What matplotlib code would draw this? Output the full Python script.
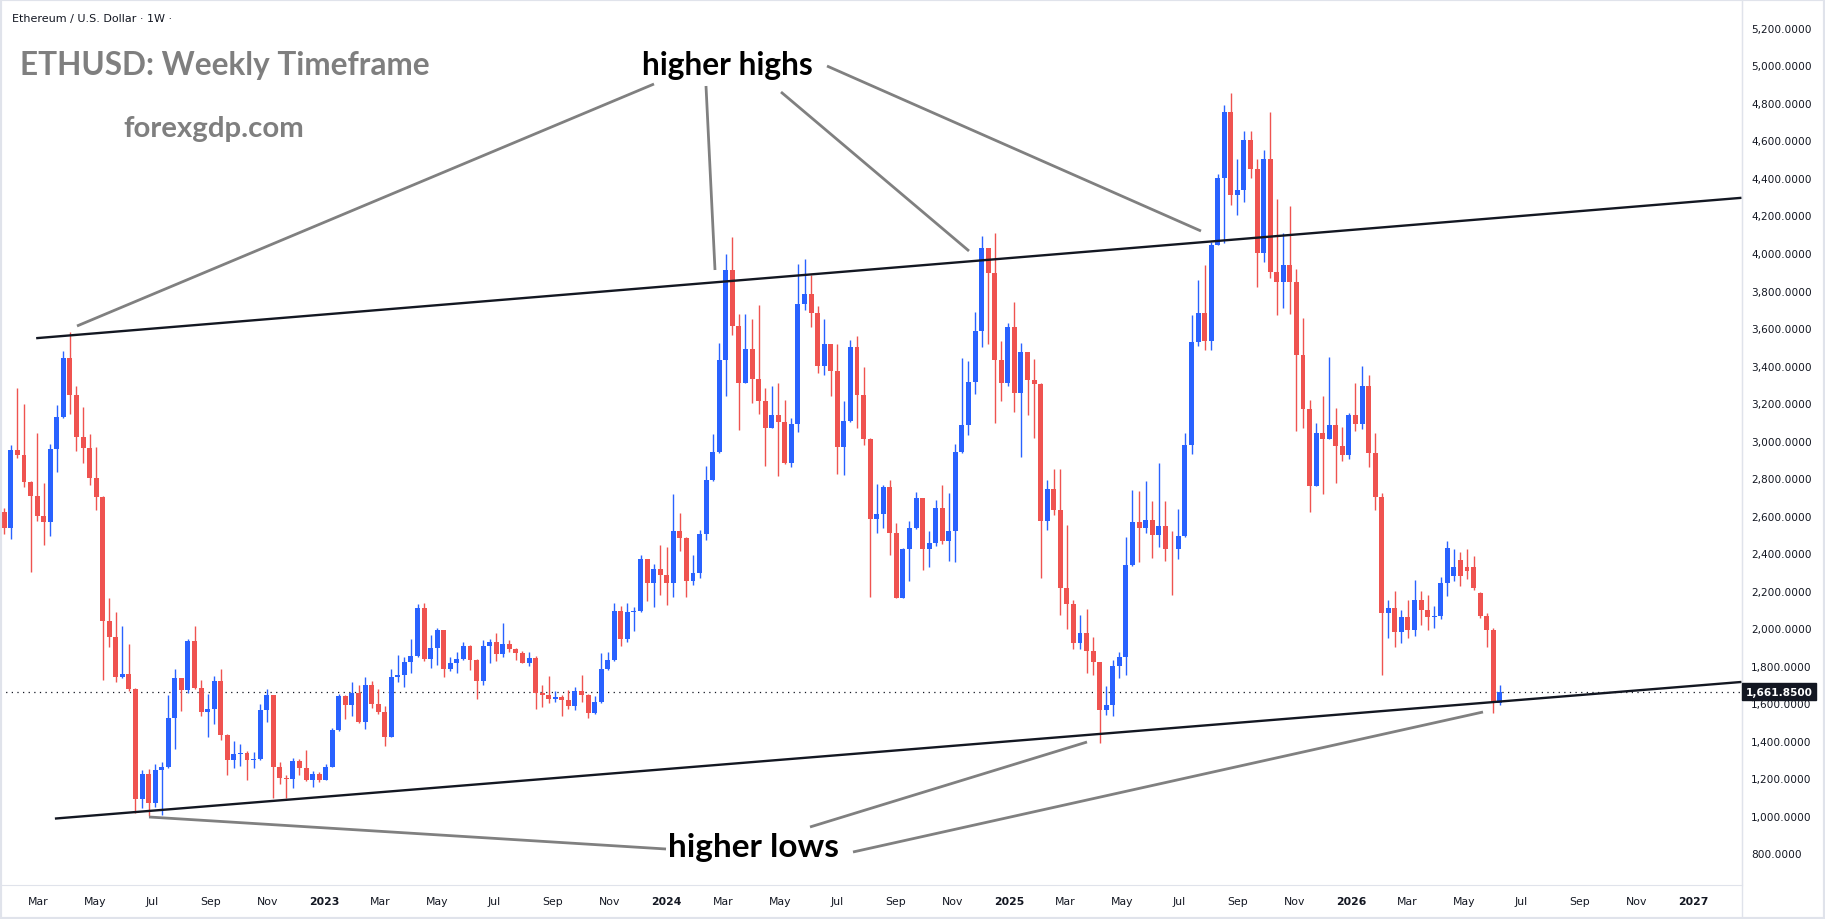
import matplotlib
matplotlib.use("Agg")
import matplotlib.pyplot as plt
import matplotlib.dates as mdates
import matplotlib.transforms as mtransforms
import pandas as pd
from matplotlib.patches import Rectangle
from matplotlib.lines import Line2D

# ---------------- data (weekly ETHUSD candles) ----------------
START = "2022-01-24"
opens = [2620, 2535, 2950, 2921, 2780, 2705, 2598, 2566, 2955, 3126,
         3440, 3243, 3020, 2960, 2800, 2699, 2038, 1953, 1741, 1757,
         1678, 1090, 1224, 1069, 1245, 1260, 1521, 1735, 1670, 1932,
         1681, 1553, 1570, 1719, 1431, 1298, 1330, 1334, 1300, 1305,
         1564, 1644, 1261, 1204, 1197, 1295, 1257, 1191, 1225, 1193,
         1263, 1460, 1641, 1593, 1655, 1502, 1698, 1598, 1556, 1421,
         1740, 1751, 1820, 1852, 2108, 1836, 1895, 1991, 1783, 1815,
         1836, 1906, 1831, 1719, 1906, 1927, 1863, 1916, 1890, 1868,
         1815, 1842, 1655, 1644, 1623, 1634, 1618, 1586, 1666, 1644,
         1549, 1607, 1783, 1831, 2092, 1943, 2087, 2092, 2369, 2241,
         2316, 2284, 2243, 2518, 2483, 2254, 2295, 2502, 2790, 2940,
         3430, 3909, 3611, 3307, 3488, 3329, 3211, 3067, 3137, 3099,
         2881, 3089, 3728, 3781, 3680, 3398, 3515, 3371, 2966, 3105,
         3499, 3243, 3009, 2583, 2609, 2753, 2508, 2163, 2423, 2534,
         2694, 2423, 2455, 2641, 2465, 2518, 2940, 3083, 3312, 3584,
         4027, 3893, 3430, 3307, 3606, 3254, 3472, 3323, 3302, 2572,
         2742, 2630, 2215, 2130, 1922, 1975, 1879, 1820, 1565, 1591,
         1798, 1847, 2336, 2567, 2535, 2577, 2498, 2545, 2425, 2420,
         2492, 2977, 3525, 3681, 3533, 4045, 4400, 4750, 4311, 4335,
         4600, 4450, 4002, 4500, 3901, 3848, 3937, 3848, 3458, 3166,
         2758, 3040, 3011, 3083, 2969, 2925, 3135, 3090, 3290, 2936,
         2702, 2080, 2110, 1980, 2060, 1990, 2150, 2100, 2060, 2065,
         2240, 2276, 2363, 2327, 2327, 2188, 2065, 1990, 1600]
highs = [2640, 2977, 3281, 3195, 2786, 3042, 2775, 2982, 3189, 3478,
         3580, 3292, 3178, 3036, 2966, 2705, 2161, 2087, 2013, 1916,
         1681, 1245, 1251, 1276, 1287, 1643, 1782, 1735, 1943, 2013,
         1725, 1651, 1746, 1782, 1436, 1399, 1383, 1348, 1342, 1596,
         1676, 1644, 1289, 1216, 1310, 1305, 1353, 1241, 1236, 1278,
         1467, 1650, 1644, 1716, 1698, 1742, 1721, 1676, 1588, 1783,
         1858, 1847, 1943, 2129, 2135, 1964, 2002, 1991, 1847, 1874,
         1927, 1911, 1836, 1938, 1943, 1975, 2028, 1938, 1895, 1879,
         1874, 1852, 1698, 1746, 1666, 1644, 1671, 1687, 1751, 1650,
         1639, 1868, 1874, 2135, 2119, 2135, 2113, 2390, 2369, 2343,
         2444, 2433, 2716, 2614, 2486, 2391, 2524, 2865, 3035, 3520,
         3995, 4085, 3675, 3675, 3648, 3723, 3281, 3291, 3307, 3217,
         3121, 3941, 3968, 3883, 3718, 3648, 3515, 3515, 3211, 3536,
         3558, 3392, 3014, 2769, 2764, 2790, 2561, 2428, 2572, 2726,
         2694, 2518, 2684, 2764, 2721, 2982, 3440, 3424, 3686, 4090,
         4027, 4106, 3531, 3627, 3739, 3520, 3472, 3435, 3307, 2790,
         2849, 2849, 2550, 2151, 2071, 2103, 1954, 1820, 1693, 1831,
         1875, 2488, 2738, 2732, 2786, 2679, 2880, 2679, 2521, 2636,
         3040, 3669, 3858, 3937, 4060, 4420, 4790, 4850, 4500, 4650,
         4650, 4500, 4550, 4750, 4290, 4104, 4250, 3915, 3655, 3217,
         3093, 3237, 3446, 3174, 3073, 3146, 3307, 3397, 3349, 3041,
         2720, 2150, 2200, 2100, 2150, 2260, 2200, 2180, 2120, 2274,
         2464, 2422, 2407, 2422, 2383, 2192, 2080, 2000, 1700]
lows = [2500, 2476, 2908, 2753, 2299, 2571, 2443, 2492, 2833, 3121,
        3142, 2944, 2879, 2764, 2631, 1725, 1899, 1714, 1735, 1665,
        1017, 1042, 1000, 1047, 1004, 1254, 1357, 1559, 1654, 1676,
        1532, 1420, 1490, 1404, 1218, 1257, 1268, 1193, 1257, 1300,
        1502, 1094, 1170, 1094, 1151, 1220, 1188, 1156, 1183, 1193,
        1263, 1454, 1517, 1534, 1497, 1463, 1575, 1545, 1374, 1421,
        1716, 1689, 1762, 1847, 1827, 1788, 1806, 1742, 1772, 1762,
        1831, 1778, 1623, 1698, 1815, 1826, 1847, 1874, 1831, 1815,
        1799, 1570, 1580, 1602, 1607, 1533, 1570, 1565, 1607, 1522,
        1543, 1602, 1778, 1826, 1906, 1927, 1986, 2087, 2145, 2113,
        2177, 2124, 2169, 2414, 2169, 2233, 2270, 2472, 2785, 2934,
        3238, 3563, 3057, 3307, 3201, 3142, 2865, 3067, 2812, 2876,
        2860, 3046, 3696, 3606, 3360, 3350, 3238, 2822, 2817, 3099,
        3067, 2977, 2167, 2508, 2534, 2391, 2160, 2160, 2254, 2529,
        2312, 2328, 2440, 2449, 2357, 2355, 2934, 3030, 3249, 3499,
        3515, 3094, 3211, 3291, 3153, 2913, 3137, 3014, 2268, 2524,
        2604, 2071, 1996, 1890, 1890, 1760, 1752, 1388, 1540, 1532,
        1733, 1752, 2332, 2352, 2506, 2375, 2435, 2360, 2176, 2371,
        2488, 2931, 3503, 3483, 3483, 4040, 4055, 4256, 4205, 4272,
        4400, 3821, 3950, 3866, 3669, 3708, 3675, 3054, 3069, 2620,
        2758, 2718, 3011, 2775, 2889, 2902, 3054, 3064, 2862, 2632,
        1750, 1950, 1900, 1920, 1950, 1960, 2020, 1990, 2000, 2049,
        2173, 2253, 2223, 2264, 2205, 2055, 1900, 1550, 1590]
closes = [2535, 2950, 2921, 2780, 2705, 2598, 2566, 2955, 3126, 3440,
          3243, 3020, 2960, 2800, 2699, 2038, 1953, 1741, 1757, 1678,
          1090, 1224, 1069, 1245, 1260, 1521, 1735, 1670, 1932, 1681,
          1553, 1570, 1719, 1431, 1298, 1330, 1334, 1300, 1305, 1564,
          1644, 1261, 1204, 1197, 1295, 1257, 1191, 1225, 1193, 1263,
          1460, 1641, 1593, 1655, 1502, 1698, 1598, 1556, 1421, 1740,
          1751, 1820, 1852, 2108, 1836, 1895, 1991, 1783, 1815, 1836,
          1906, 1831, 1719, 1906, 1927, 1863, 1916, 1890, 1868, 1815,
          1842, 1655, 1644, 1623, 1634, 1618, 1586, 1666, 1644, 1549,
          1607, 1783, 1831, 2092, 1943, 2087, 2092, 2369, 2241, 2316,
          2284, 2243, 2518, 2483, 2254, 2295, 2502, 2790, 2940, 3430,
          3909, 3611, 3307, 3488, 3329, 3211, 3067, 3137, 3099, 2881,
          3089, 3728, 3781, 3680, 3398, 3515, 3371, 2966, 3105, 3499,
          3243, 3009, 2583, 2609, 2753, 2508, 2163, 2423, 2534, 2694,
          2423, 2455, 2641, 2465, 2518, 2940, 3083, 3312, 3584, 4027,
          3893, 3430, 3307, 3606, 3254, 3472, 3323, 3302, 2572, 2742,
          2630, 2215, 2130, 1922, 1975, 1879, 1820, 1565, 1591, 1798,
          1847, 2336, 2567, 2535, 2577, 2498, 2545, 2425, 2420, 2492,
          2977, 3525, 3681, 3533, 4045, 4400, 4750, 4311, 4335, 4600,
          4450, 4002, 4500, 3901, 3848, 3937, 3848, 3458, 3166, 2758,
          3040, 3011, 3083, 2969, 2925, 3135, 3090, 3290, 2936, 2702,
          2080, 2110, 1980, 2060, 1990, 2150, 2100, 2060, 2065, 2240,
          2428, 2327, 2280, 2303, 2217, 2065, 1990, 1600, 1661.85]

LAST_PRICE = 1661.85
PRICE_TICKS = list(range(800, 5201, 200))
UPPER_TREND_DATES = ["2022-02-27", "2027-02-21"]
UPPER_TREND_PRICES = [3546, 4294]
LOWER_TREND_DATES = ["2022-03-19", "2027-02-21"]
LOWER_TREND_PRICES = [986, 1714]

TITLE = "ETHUSD: Weekly Timeframe"
SITE = "forexgdp.com"
SYMBOL = "Ethereum / U.S. Dollar \u00b7 1W \u00b7"
HH_LABEL = "higher highs"
HL_LABEL = "higher lows"

# ---------------- layout ----------------
W, H = 1825, 920
BLUE, RED = "#2962ff", "#ef5350"
INK = "#131722"
GRID = "#e0e3eb"

fig = plt.figure(figsize=(W / 100, H / 100), dpi=100)
fig.patch.set_facecolor("white")
AX_RIGHT, AX_BOTTOM, AX_TOP = 1742, 886, 3
ax = fig.add_axes([0, (H - AX_BOTTOM) / H, AX_RIGHT / W, (AX_BOTTOM - AX_TOP) / H])

base = mdates.date2num(pd.Timestamp("2023-01-01"))
ax.set_xlim(base - 346.6, base + 1512.5)
ax.set_ylim(632, 5337.5)

dates = pd.date_range(START, periods=len(opens), freq="7D")
x = mdates.date2num(dates)
cols = [BLUE if c >= o else RED for o, c in zip(opens, closes)]
ax.vlines(x, lows, highs, colors=cols, linewidth=1.0, zorder=2)
bottoms = [min(o, c) for o, c in zip(opens, closes)]
heights = [max(abs(c - o), 4.5) for o, c in zip(opens, closes)]
ax.bar(x, heights, bottom=bottoms, width=5.3, color=cols, linewidth=0, zorder=3)

# trend lines
ax.plot(mdates.date2num(pd.to_datetime(UPPER_TREND_DATES)), UPPER_TREND_PRICES,
        color=INK, lw=1.7, zorder=4, solid_capstyle="butt")
ax.plot(mdates.date2num(pd.to_datetime(LOWER_TREND_DATES)), LOWER_TREND_PRICES,
        color=INK, lw=1.7, zorder=4, solid_capstyle="butt")

# last price dotted line
ax.axhline(LAST_PRICE, color=INK, lw=0.9, ls=(0, (1, 3.5)), zorder=1)

# axes styling
for s in ["top", "left"]:
    ax.spines[s].set_visible(False)
ax.spines["right"].set_color(GRID)
ax.spines["bottom"].set_color(GRID)
ax.yaxis.tick_right()
ax.set_yticks(PRICE_TICKS)
ax.set_yticklabels([f"{p:,.4f}" for p in PRICE_TICKS])
ax.tick_params(axis="y", length=0, pad=6.5, labelsize=7.6, labelcolor=INK)

tick_dates = pd.date_range("2022-03-01", "2027-01-01", freq="2MS")
ax.set_xticks(mdates.date2num(tick_dates))
ax.set_xticklabels([str(d.year) if d.month == 1 else d.strftime("%b") for d in tick_dates])
ax.tick_params(axis="x", length=0, pad=8, labelsize=7.8, labelcolor=INK)
for lbl, d in zip(ax.get_xticklabels(), tick_dates):
    if d.month == 1:
        lbl.set_fontweight("bold")

# helpers for pixel placement
def fx(px):
    return px / W

def fy(py):
    return 1 - py / H

# figure border and right separator
fig.add_artist(Rectangle((0, 0), 1, 1, transform=fig.transFigure, fill=False,
                         ec=GRID, lw=3, zorder=20))
fig.add_artist(Line2D([fx(AX_RIGHT), fx(AX_RIGHT)], [0, 1], color=GRID, lw=1, zorder=20))

# last price label box
btrans = mtransforms.blended_transform_factory(fig.transFigure, ax.transData)
box_h = 17 * (5337.5 - 632) / (AX_BOTTOM - AX_TOP)
fig.add_artist(Rectangle((fx(1742), LAST_PRICE - box_h / 2), fx(74), box_h,
                         transform=btrans, color=INK, zorder=30, clip_on=False))
fig.text(fx(1779), LAST_PRICE, f"{LAST_PRICE:,.4f}", transform=btrans, color="white",
         fontsize=7.6, fontweight="bold", ha="center", va="center", zorder=31)

# texts
fig.canvas.draw()
renderer = fig.canvas.get_renderer()

def fit_text(t, target_w):
    w = t.get_window_extent(renderer).width
    t.set_fontsize(t.get_fontsize() * target_w / w)

t0 = fig.text(fx(11.5), fy(19), SYMBOL, fontsize=9, color=INK, ha="left", va="center",
              family=["Liberation Sans Narrow", "DejaVu Sans"])
fit_text(t0, 160)
t1 = fig.text(fx(20), fy(66), TITLE, fontsize=24, color="#7f7f7f", fontweight="bold",
              ha="left", va="center", family=["Lato", "DejaVu Sans"])
fit_text(t1, 410)
t2 = fig.text(fx(214), fy(129), SITE, fontsize=20, color="#7f7f7f", fontweight="bold",
              ha="center", va="center", family=["Lato", "DejaVu Sans"])
fit_text(t2, 181)
t3 = fig.text(fx(727), fy(66), HH_LABEL, fontsize=20, color="black", fontweight="bold",
              ha="center", va="center", family=["Lato", "DejaVu Sans"])
fit_text(t3, 172)
t4 = fig.text(fx(753.5), fy(848), HL_LABEL, fontsize=20, color="black", fontweight="bold",
              ha="center", va="center", family=["Lato", "DejaVu Sans"])
fit_text(t4, 171)

# pointer lines (pixel layout)
POINTERS = [((654, 85), (77, 327)), ((706, 87), (715, 271)), ((781, 93), (969, 252)),
            ((827, 67), (1201, 232)), ((149, 818), (666, 850)), ((810, 828), (1087, 743)),
            ((853, 853), (1483, 713))]
for (x0, y0), (x1, y1) in POINTERS:
    fig.add_artist(Line2D([fx(x0), fx(x1)], [fy(y0), fy(y1)], color="#808080", lw=2.0,
                          zorder=15, solid_capstyle="butt"))

fig.savefig("out.png", dpi=100)
